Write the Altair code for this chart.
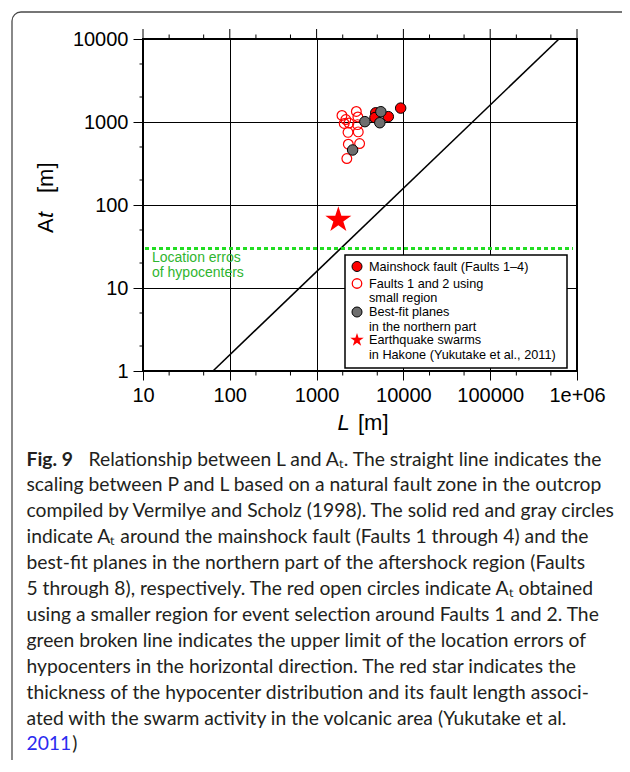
import altair as alt
import pandas as pd

# ---------------- data ----------------
main_L = [4800, 4700, 6700, 9300]
main_At = [1290, 1130, 1160, 1470]

small_L = [1960, 2170, 2080, 2360, 2870, 2990, 2960, 3020, 2300, 2320, 3130, 2230]
small_At = [1200, 1070, 960, 970, 1340, 1150, 930, 760, 750, 540, 550, 363]

north_L = [3600, 5500, 5350, 2600]
north_At = [1010, 1330, 980, 460]

swarm_L = [1780]
swarm_At = [66]

scaling_L = [64, 620000]
scaling_At = [1, 10000]

loc_err_At = [30]

x_major = [10, 100, 1000, 10000, 100000, 1000000]
x_minor = [20, 50, 200, 500, 2000, 5000, 20000, 50000, 200000, 500000]
y_major = [1, 10, 100, 1000, 10000]
y_minor = [2, 5, 20, 50, 200, 500, 2000, 5000]

legend_lines = [
    ["Mainshock fault (Faults 1\u20134)"],
    ["Faults 1 and 2 using", "small region"],
    ["Best-fit planes", "in the northern part"],
    ["Earthquake swarms", "in Hakone (Yukutake et al., 2011)"],
]
annot_lines = ["Location erros", "of hypocenters"]

caption_lines = [
    "Relationship between L and A\u209c. The straight line indicates the",
    "scaling between P and L based on a natural fault zone in the outcrop",
    "compiled by Vermilye and Scholz (1998). The solid red and gray circles",
    "indicate A\u209c around the mainshock fault (Faults 1 through 4) and the",
    "best-fit planes in the northern part of the aftershock region (Faults",
    "5 through 8), respectively. The red open circles indicate A\u209c obtained",
    "using a smaller region for event selection around Faults 1 and 2. The",
    "green broken line indicates the upper limit of the location errors of",
    "hypocenters in the horizontal direction. The red star indicates the",
    "thickness of the hypocenter distribution and its fault length associ-",
    "ated with the swarm activity in the volcanic area (Yukutake et al.",
]

STAR = ("M0,-1L0.2245,-0.309L0.951,-0.309L0.3633,0.118L0.5878,0.809L0,0.382"
        "L-0.5878,0.809L-0.3633,0.118L-0.951,-0.309L-0.2245,-0.309Z")

# ---------------- geometry ----------------
W, H = 434, 332
FONT = "Liberation Sans"
CAP_FONT = "Lato"
CAP_SIZE = 19.3

xscale = alt.Scale(type="log", domain=[10, 1000000])
yscale = alt.Scale(type="log", domain=[1, 10000])
xaxis = alt.Axis(values=x_major, title=None, grid=True, tickSize=9, labelPadding=5,
                 domain=False, orient="bottom", labelFlush=False, labelOverlap=False,
                 labelExpr="datum.value >= 1000000 ? '1e+06' : format(datum.value, 'd')")
yaxis = alt.Axis(values=y_major, title=None, grid=True, tickSize=10, labelPadding=5,
                 domain=False, format="d", orient="left", labelFlush=False, labelOverlap=False)


def X():
    return alt.X("L:Q", scale=xscale, axis=xaxis)


def Y():
    return alt.Y("At:Q", scale=yscale, axis=yaxis)


dummy = pd.DataFrame({"d": [0]})
layers = []

# scaling line
df_line = pd.DataFrame({"L": scaling_L, "At": scaling_At})
layers.append(alt.Chart(df_line).mark_line(color="black", strokeWidth=1.6).encode(x=X(), y=Y()))

# location error line
df_loc = pd.DataFrame({"At": loc_err_At})
layers.append(alt.Chart(df_loc).mark_rule(color="#22dd22", strokeWidth=3, strokeDash=[4, 3]).encode(
    y=Y(), x=alt.value(2), x2=alt.value(W - 4)))

# minor / top ticks
df_xmaj = pd.DataFrame({"L": x_major})
df_xmin = pd.DataFrame({"L": x_minor})
df_ymin = pd.DataFrame({"At": y_minor})
layers.append(alt.Chart(df_xmaj).mark_rule(color="black", strokeWidth=1).encode(
    x=X(), y=alt.value(0), y2=alt.value(-10)))
layers.append(alt.Chart(df_xmin).mark_rule(color="black", strokeWidth=1).encode(
    x=X(), y=alt.value(0), y2=alt.value(-4.5)))
layers.append(alt.Chart(df_xmin).mark_rule(color="black", strokeWidth=1).encode(
    x=X(), y=alt.value(H), y2=alt.value(H + 4.5)))
layers.append(alt.Chart(df_ymin).mark_rule(color="black", strokeWidth=1).encode(
    y=Y(), x=alt.value(0), x2=alt.value(-3.5)))

# data points
df_small = pd.DataFrame({"L": small_L, "At": small_At})
layers.append(alt.Chart(df_small).mark_point(shape="circle", filled=False, color="#ff0000",
                                             size=95, strokeWidth=1.2, opacity=1).encode(x=X(), y=Y()))
df_main = pd.DataFrame({"L": main_L, "At": main_At})
layers.append(alt.Chart(df_main).mark_point(shape="circle", filled=True, color="#ff0000",
                                            stroke="black", strokeWidth=1, size=110, opacity=1).encode(x=X(), y=Y()))
df_north = pd.DataFrame({"L": north_L, "At": north_At})
layers.append(alt.Chart(df_north).mark_point(shape="circle", filled=True, color="#6e6e6e",
                                             stroke="black", strokeWidth=1, size=110, opacity=1).encode(x=X(), y=Y()))
df_swarm = pd.DataFrame({"L": swarm_L, "At": swarm_At})
layers.append(alt.Chart(df_swarm).mark_point(shape=STAR, filled=True, color="#ff0000",
                                             size=750, opacity=1).encode(x=X(), y=Y()))

# annotation for location error
for j, ln in enumerate(annot_lines):
    layers.append(alt.Chart(dummy).mark_text(text=ln, font=FONT, fontSize=14, color="#2fb52f",
                                             align="left", baseline="middle").encode(
        x=alt.value(9), y=alt.value(219 + j * 14.5)))

# legend box
LX, LY, LX2, LY2 = 202, 216, 424, 329
layers.append(alt.Chart(dummy).mark_rect(fill="white", stroke="black", strokeWidth=1.5).encode(
    x=alt.value(LX), x2=alt.value(LX2), y=alt.value(LY), y2=alt.value(LY2)))
sym_styles = [
    dict(shape="circle", filled=True, color="#ff0000", stroke="black", strokeWidth=1, size=100),
    dict(shape="circle", filled=False, color="#ff0000", strokeWidth=1.3, size=90),
    dict(shape="circle", filled=True, color="#6e6e6e", stroke="black", strokeWidth=1, size=100),
    dict(shape=STAR, filled=True, color="#ff0000", size=200),
]
entry_y = [227.5, 244.5, 273, 301]
line_h = 14.5
for lines, sty, ey in zip(legend_lines, sym_styles, entry_y):
    layers.append(alt.Chart(dummy).mark_point(opacity=1, **sty).encode(
        x=alt.value(LX + 12), y=alt.value(ey)))
    for j, ln in enumerate(lines):
        layers.append(alt.Chart(dummy).mark_text(text=ln, font=FONT, fontSize=12.7, color="black",
                                                 align="left", baseline="middle").encode(
            x=alt.value(LX + 24), y=alt.value(ey + j * line_h)))

# axis titles
layers.append(alt.Chart(dummy).mark_text(text="A", font=FONT, fontSize=22, angle=270,
                                         align="left", baseline="middle").encode(
    x=alt.value(-97), y=alt.value(194)))
layers.append(alt.Chart(dummy).mark_text(text="t", font=FONT, fontSize=22, fontStyle="italic",
                                         angle=270, align="left", baseline="middle").encode(
    x=alt.value(-97), y=alt.value(179)))
layers.append(alt.Chart(dummy).mark_text(text="[m]", font=FONT, fontSize=22, angle=270,
                                         align="left", baseline="middle").encode(
    x=alt.value(-97), y=alt.value(154)))
layers.append(alt.Chart(dummy).mark_text(text="L", font=FONT, fontSize=22, fontStyle="italic",
                                         align="left", baseline="middle").encode(
    x=alt.value(194.5), y=alt.value(384)))
layers.append(alt.Chart(dummy).mark_text(text="[m]", font=FONT, fontSize=22,
                                         align="left", baseline="middle").encode(
    x=alt.value(215), y=alt.value(384)))

# caption
CX = -116.5
CY = 420.5
CLH = 25.9
layers.append(alt.Chart(dummy).mark_text(text="Fig. 9", font=CAP_FONT, fontSize=CAP_SIZE, fontWeight="bold",
                                         color="#231f20", align="left", baseline="middle").encode(
    x=alt.value(CX), y=alt.value(CY)))
layers.append(alt.Chart(dummy).mark_text(text=caption_lines[0], font=CAP_FONT, fontSize=CAP_SIZE,
                                         color="#231f20", align="left", baseline="middle").encode(
    x=alt.value(CX + 62), y=alt.value(CY)))
for i, ln in enumerate(caption_lines[1:], start=1):
    layers.append(alt.Chart(dummy).mark_text(text=ln, font=CAP_FONT, fontSize=CAP_SIZE,
                                             color="#231f20", align="left", baseline="middle").encode(
        x=alt.value(CX), y=alt.value(CY + i * CLH)))
layers.append(alt.Chart(dummy).mark_text(text="2011", font=CAP_FONT, fontSize=CAP_SIZE,
                                         color="#2b2bf0", align="left", baseline="middle").encode(
    x=alt.value(CX), y=alt.value(CY + 11 * CLH)))
layers.append(alt.Chart(dummy).mark_text(text=")", font=CAP_FONT, fontSize=CAP_SIZE,
                                         color="#231f20", align="left", baseline="middle").encode(
    x=alt.value(CX + 0.58 * 4 * CAP_SIZE + 1), y=alt.value(CY + 11 * CLH)))

# rounded outer frame (right and bottom sides run past the page edge, as in the reference)
layers.append(alt.Chart(dummy).mark_rect(fill="transparent", stroke="#4a4a4a", strokeWidth=1.3,
                                         cornerRadius=9).encode(
    x=alt.value(-131), x2=alt.value(520), y=alt.value(-27), y2=alt.value(740)))

chart = alt.layer(*layers).properties(
    width=W, height=H,
    background="white",
    autosize=alt.AutoSizeParams(type="none"),
    padding={"left": 135, "top": 31, "right": 45, "bottom": 389},
).configure_view(stroke="black", strokeWidth=2).configure_axis(
    labelFont=FONT, labelFontSize=20, labelColor="black", tickColor="black",
    tickWidth=1, gridColor="black", gridWidth=1, gridOpacity=1,
)

chart.save("out.html", embed_options={"renderer": "svg", "actions": False})
